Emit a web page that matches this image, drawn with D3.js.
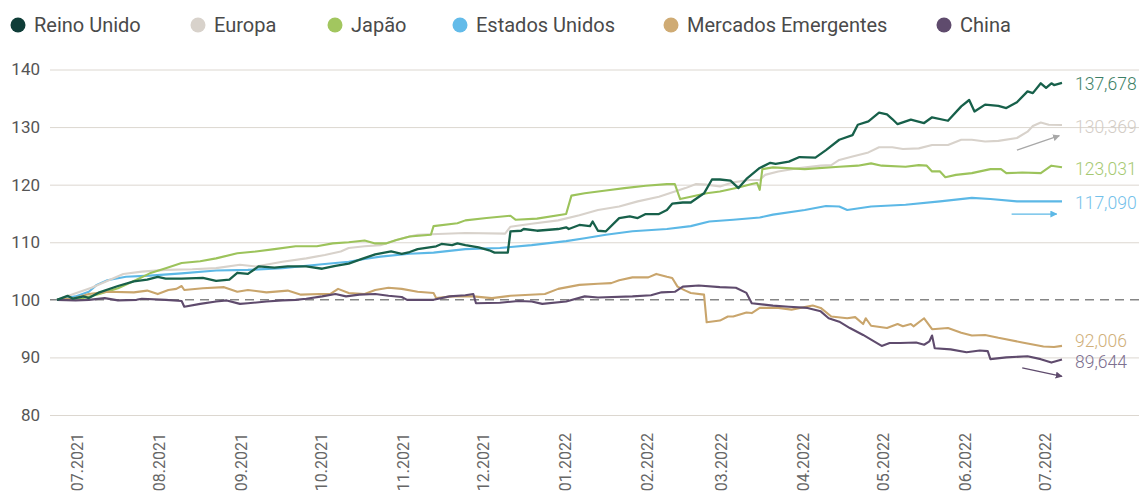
<!DOCTYPE html>
<html>
<head>
<meta charset="utf-8">
<script src="https://cdn.jsdelivr.net/npm/d3@7/dist/d3.min.js"></script>
<style>
    body { margin: 0; background: #fff; }
    svg text { font-family: Roboto, "Noto Sans", sans-serif; }
</style>
</head>
<body>
<div id="chart"></div>
<script>
// series names (legend order)
var seriesNames = ["Reino Unido", "Europa", "Japão", "Estados Unidos", "Mercados Emergentes", "China"]

// index values, base 100 (date, value)
var reinoUnido = [
    ["2021-06-24",100],["2021-06-28",100.7],["2021-06-30",100.2],["2021-07-04",100.6],["2021-07-06",100.3],
    ["2021-07-10",101.3],["2021-07-17",102.4],["2021-07-23",103.2],["2021-07-28",103.5],["2021-08-01",104.0],
    ["2021-08-04",103.7],["2021-08-10",103.7],["2021-08-18",103.8],["2021-08-23",103.3],["2021-08-28",103.5],
    ["2021-08-31",104.7],["2021-09-04",104.5],["2021-09-08",105.8],["2021-09-14",105.6],["2021-09-19",105.8],
    ["2021-09-26",105.8],["2021-10-02",105.4],["2021-10-07",105.9],["2021-10-12",106.3],["2021-10-17",107.1],
    ["2021-10-22",107.9],["2021-10-28",108.4],["2021-11-01",108.0],["2021-11-04",108.3],["2021-11-07",108.8],
    ["2021-11-14",109.3],["2021-11-16",109.7],["2021-11-20",109.5],["2021-11-22",109.8],["2021-11-25",109.5],
    ["2021-11-30",109.1],["2021-12-04",108.6],["2021-12-06",108.2],["2021-12-11",108.2],["2021-12-12",111.9],
    ["2021-12-16",112.0],["2021-12-17",112.3],["2021-12-22",112.0],["2021-12-30",112.3],["2022-01-02",112.6],
    ["2022-01-03",112.3],["2022-01-07",113.0],["2022-01-11",112.8],["2022-01-12",113.6],["2022-01-14",112.0],
    ["2022-01-17",111.9],["2022-01-22",114.2],["2022-01-26",114.5],["2022-01-29",114.2],["2022-02-01",114.9],
    ["2022-02-06",114.9],["2022-02-09",115.6],["2022-02-11",116.7],["2022-02-15",116.9],["2022-02-18",116.9],
    ["2022-02-23",118.5],["2022-02-26",120.9],["2022-03-01",120.9],["2022-03-05",120.7],["2022-03-08",119.4],
    ["2022-03-11",121.0],["2022-03-16",122.9],["2022-03-20",123.8],["2022-03-22",123.6],["2022-03-27",124.0],
    ["2022-03-31",124.8],["2022-04-06",124.7],["2022-04-10",126.0],["2022-04-15",127.8],["2022-04-20",128.6],
    ["2022-04-22",130.4],["2022-04-26",131.0],["2022-04-30",132.5],["2022-05-03",132.2],["2022-05-05",131.4],
    ["2022-05-07",130.5],["2022-05-12",131.3],["2022-05-17",130.7],["2022-05-20",131.7],["2022-05-26",131.1],
    ["2022-05-31",133.6],["2022-06-03",134.7],["2022-06-05",132.7],["2022-06-09",133.9],["2022-06-14",133.7],
    ["2022-06-17",133.3],["2022-06-21",134.3],["2022-06-25",136.2],["2022-06-27",135.9],["2022-06-30",137.6],
    ["2022-07-02",136.8],["2022-07-04",137.6],["2022-07-05",137.3],["2022-07-08",137.678]
]
var europa = [
    ["2021-06-24",100],["2021-07-07",102.1],["2021-07-14",103.5],["2021-07-19",104.5],["2021-07-26",104.9],
    ["2021-08-04",105.2],["2021-08-14",105.3],["2021-08-23",105.5],["2021-09-01",106.1],["2021-09-07",105.8],
    ["2021-09-17",106.6],["2021-09-26",107.2],["2021-10-03",107.8],["2021-10-09",108.4],["2021-10-12",109.0],
    ["2021-10-18",109.3],["2021-10-24",109.5],["2021-10-30",110.4],["2021-11-04",111.0],["2021-11-07",111.3],
    ["2021-11-25",111.6],["2021-12-10",111.5],["2021-12-12",112.7],["2021-12-20",113.2],["2021-12-30",113.8],
    ["2022-01-07",114.7],["2022-01-14",115.6],["2022-01-22",116.2],["2022-01-29",117.1],["2022-02-06",117.9],
    ["2022-02-12",118.8],["2022-02-16",119.4],["2022-02-20",120.1],["2022-02-24",120.0],["2022-03-01",119.7],
    ["2022-03-06",120.4],["2022-03-12",120.8],["2022-03-16",120.8],["2022-03-18",121.7],["2022-03-23",122.3],
    ["2022-03-31",122.9],["2022-04-08",123.3],["2022-04-12",123.4],["2022-04-15",124.3],["2022-04-20",124.9],
    ["2022-04-26",125.6],["2022-04-30",126.5],["2022-05-05",126.5],["2022-05-09",126.2],["2022-05-15",126.3],
    ["2022-05-20",126.9],["2022-05-26",126.9],["2022-05-31",127.8],["2022-06-04",127.8],["2022-06-09",127.5],
    ["2022-06-14",127.6],["2022-06-21",128.1],["2022-06-25",129.2],["2022-06-27",130.2],["2022-06-30",130.8],
    ["2022-07-03",130.4],["2022-07-08",130.369]
]
var japao = [
    ["2021-06-24",100],["2021-07-04",100.3],["2021-07-10",101.0],["2021-07-17",102.0],["2021-07-24",103.5],
    ["2021-07-29",104.6],["2021-08-04",105.5],["2021-08-10",106.4],["2021-08-17",106.7],["2021-08-23",107.2],
    ["2021-08-31",108.1],["2021-09-07",108.4],["2021-09-14",108.8],["2021-09-22",109.3],["2021-09-30",109.3],
    ["2021-10-06",109.8],["2021-10-12",110.0],["2021-10-18",110.3],["2021-10-22",109.8],["2021-10-26",109.8],
    ["2021-10-30",110.4],["2021-11-04",111.0],["2021-11-12",111.3],["2021-11-13",112.8],["2021-11-22",113.3],
    ["2021-11-25",113.8],["2021-12-03",114.2],["2021-12-12",114.6],["2021-12-14",113.9],["2021-12-22",114.1],
    ["2022-01-02",114.9],["2022-01-04",118.1],["2022-01-09",118.5],["2022-01-17",119.0],["2022-01-24",119.4],
    ["2022-02-01",119.8],["2022-02-09",120.1],["2022-02-12",120.1],["2022-02-14",117.5],["2022-02-18",117.9],
    ["2022-02-24",118.5],["2022-03-01",118.8],["2022-03-08",119.5],["2022-03-13",120.1],["2022-03-15",120.3],
    ["2022-03-16",119.1],["2022-03-17",122.7],["2022-03-21",123.0],["2022-04-02",122.7],["2022-04-15",123.1],
    ["2022-04-22",123.3],["2022-04-27",123.7],["2022-05-01",123.3],["2022-05-10",123.1],["2022-05-15",123.4],
    ["2022-05-18",123.3],["2022-05-20",122.3],["2022-05-23",122.3],["2022-05-25",121.3],["2022-05-29",121.7],
    ["2022-06-04",122.0],["2022-06-11",122.7],["2022-06-15",122.7],["2022-06-17",122.0],["2022-06-23",122.1],
    ["2022-06-30",122.0],["2022-07-04",123.3],["2022-07-08",123.031]
]
var estadosUnidos = [
    ["2021-06-24",100],["2021-07-01",100.6],["2021-07-06",101.4],["2021-07-09",102.6],["2021-07-13",103.4],
    ["2021-07-20",104.0],["2021-07-29",104.2],["2021-08-10",104.6],["2021-08-23",105.1],["2021-09-04",105.2],
    ["2021-09-17",105.5],["2021-09-30",106.1],["2021-10-12",106.6],["2021-10-18",107.1],["2021-10-24",107.5],
    ["2021-11-04",108.0],["2021-11-13",108.2],["2021-11-25",108.8],["2021-12-08",109.0],["2021-12-20",109.5],
    ["2022-01-02",110.2],["2022-01-09",110.7],["2022-01-17",111.3],["2022-01-27",111.9],["2022-02-09",112.3],
    ["2022-02-18",112.8],["2022-02-25",113.6],["2022-03-06",113.9],["2022-03-16",114.3],["2022-03-21",114.8],
    ["2022-04-02",115.6],["2022-04-10",116.3],["2022-04-15",116.2],["2022-04-18",115.6],["2022-04-27",116.2],
    ["2022-05-10",116.5],["2022-05-23",117.1],["2022-06-04",117.7],["2022-06-11",117.5],["2022-06-21",117.1],
    ["2022-06-30",117.1],["2022-07-08",117.09]
]
var mercadosEmergentes = [
    ["2021-06-24",100],["2021-07-01",100.3],["2021-07-06",101.0],["2021-07-13",101.4],["2021-07-23",101.3],
    ["2021-07-28",101.6],["2021-08-01",101.0],["2021-08-05",101.7],["2021-08-08",101.9],["2021-08-10",102.4],
    ["2021-08-11",101.7],["2021-08-18",102.0],["2021-08-26",102.2],["2021-08-31",101.4],["2021-09-04",101.7],
    ["2021-09-11",101.3],["2021-09-19",101.6],["2021-09-24",100.9],["2021-10-01",101.0],["2021-10-05",101.0],
    ["2021-10-08",101.9],["2021-10-12",101.2],["2021-10-18",101.0],["2021-10-22",101.7],["2021-10-27",102.1],
    ["2021-11-01",101.9],["2021-11-07",101.4],["2021-11-13",101.2],["2021-11-14",100.3],["2021-11-20",100.6],
    ["2021-11-28",100.6],["2021-12-05",100.3],["2021-12-12",100.7],["2021-12-25",101.0],["2021-12-30",101.9],
    ["2022-01-07",102.6],["2022-01-14",102.8],["2022-01-19",102.9],["2022-01-22",103.4],["2022-01-27",103.9],
    ["2022-02-02",103.9],["2022-02-05",104.5],["2022-02-09",104.0],["2022-02-11",103.8],["2022-02-13",102.3],
    ["2022-02-16",101.6],["2022-02-18",101.2],["2022-02-23",100.9],["2022-02-24",96.1],["2022-03-01",96.4],
    ["2022-03-04",97.1],["2022-03-06",97.1],["2022-03-11",97.8],["2022-03-13",97.7],["2022-03-16",98.6],
    ["2022-03-23",98.6],["2022-03-28",98.3],["2022-04-05",99.0],["2022-04-08",98.6],["2022-04-12",97.1],
    ["2022-04-18",96.8],["2022-04-21",97.0],["2022-04-24",95.8],["2022-04-25",96.8],["2022-04-27",95.5],
    ["2022-05-03",95.1],["2022-05-07",95.8],["2022-05-09",95.4],["2022-05-12",95.8],["2022-05-13",95.4],
    ["2022-05-17",96.8],["2022-05-20",94.9],["2022-05-26",95.1],["2022-05-31",94.3],["2022-06-04",93.8],
    ["2022-06-09",93.9],["2022-06-14",93.4],["2022-06-23",92.6],["2022-07-01",91.9],["2022-07-05",91.8],
    ["2022-07-08",92.006]
]
var china = [
    ["2021-06-24",100],["2021-07-01",99.9],["2021-07-06",100.0],["2021-07-12",100.3],["2021-07-17",99.9],
    ["2021-07-24",100.0],["2021-07-26",100.2],["2021-08-04",100.0],["2021-08-10",99.8],["2021-08-11",98.8],
    ["2021-08-17",99.3],["2021-08-23",99.7],["2021-08-27",99.9],["2021-09-01",99.3],["2021-09-04",99.4],
    ["2021-09-11",99.7],["2021-09-17",99.9],["2021-09-22",100.0],["2021-09-26",100.2],["2021-10-02",100.6],
    ["2021-10-07",101.0],["2021-10-11",100.6],["2021-10-16",100.9],["2021-10-22",101.0],["2021-10-27",100.7],
    ["2021-11-01",100.5],["2021-11-03",100.0],["2021-11-13",100.0],["2021-11-19",100.6],["2021-11-25",100.8],
    ["2021-11-28",101.0],["2021-11-29",99.4],["2021-12-08",99.5],["2021-12-15",99.8],["2021-12-20",99.7],
    ["2021-12-24",99.3],["2022-01-02",99.7],["2022-01-09",100.6],["2022-01-14",100.4],["2022-01-27",100.6],
    ["2022-02-03",100.8],["2022-02-07",101.3],["2022-02-12",101.4],["2022-02-15",102.3],["2022-02-21",102.5],
    ["2022-03-01",102.2],["2022-03-07",102.1],["2022-03-11",101.2],["2022-03-13",99.4],["2022-03-21",99.0],
    ["2022-03-27",98.8],["2022-04-03",98.6],["2022-04-08",98.0],["2022-04-11",96.8],["2022-04-15",96.2],
    ["2022-04-19",95.1],["2022-04-24",93.9],["2022-04-27",93.1],["2022-05-01",92.0],["2022-05-04",92.5],
    ["2022-05-08",92.5],["2022-05-14",92.6],["2022-05-17",92.2],["2022-05-19",92.8],["2022-05-20",93.8],
    ["2022-05-21",91.6],["2022-05-27",91.4],["2022-06-02",90.9],["2022-06-07",91.2],["2022-06-10",91.1],
    ["2022-06-11",89.7],["2022-06-17",90.0],["2022-06-25",90.2],["2022-06-30",89.7],["2022-07-04",89.1],
    ["2022-07-08",89.644]
]

// y ticks
var yTicks = [80, 90, 100, 110, 120, 130, 140]

// trend arrows next to the end labels (series index, from, to)
var trendArrows = [
    [1, ["2022-06-21",126.0], ["2022-07-07",128.5]],
    [3, ["2022-06-19",114.9], ["2022-07-06",114.9]],
    [5, ["2022-06-23",88.2], ["2022-07-08",86.7]]
]

// styling
var lineColors = ["#17604a", "#d8d2cb", "#9cc35b", "#5cb8e6", "#c9a56c", "#5f4b6d"]
var legendColors = ["#0f3d38", "#d8d2cb", "#a2c65f", "#63bbe9", "#cfab74", "#5f4b6d"]
var labelColors = ["#3d7f66", "#d3cdc6", "#a6c972", "#74c1ea", "#d0b07a", "#7d7090"]
var arrowColors = ["#a8a8a8", "#a8a8a8", "#a8a8a8", "#5cb8e6", "#a8a8a8", "#5f4b6d"]

var allSeries = [reinoUnido, europa, japao, estadosUnidos, mercadosEmergentes, china]

function createVisualization() {
    var w = 1139
    var h = 493
    var parse = d3.timeParse("%Y-%m-%d")
    var ptFormat = d3.formatLocale({ decimal: ",", thousands: ".", grouping: [3], currency: ["€", ""] }).format(".3f")

    var svg = d3.select("#chart").append("svg")
        .attr("width", w)
        .attr("height", h)

    // scales
    var xScale = d3.scaleTime()
        .domain([parse("2021-06-24"), parse("2022-07-08")])
        .range([57, 1062])
    var yScale = d3.scaleLinear()
        .domain([80, 140])
        .range([415, 69.5])

    // gridlines + y labels
    var yAxis = d3.axisLeft(yScale)
        .tickValues(yTicks)
        .tickSize(-(w - 50))
        .tickPadding(10)
    var yg = svg.append("g")
        .attr("transform", "translate(50,0)")
        .call(yAxis)
    yg.select(".domain").remove()
    yg.selectAll(".tick line")
        .attr("stroke", "#dcd7d0")
        .attr("stroke-width", 1)
        .attr("stroke-opacity", function(d) { return d == 100 ? 0 : 1 })
    yg.selectAll(".tick text")
        .attr("fill", "#555")
        .attr("font-size", "17px")

    // x labels (monthly, rotated)
    var xAxis = d3.axisBottom(xScale)
        .ticks(d3.timeMonth.every(1))
        .tickFormat(d3.timeFormat("%m.%Y"))
        .tickSize(0)
    var xg = svg.append("g")
        .attr("transform", "translate(1,433)")
        .call(xAxis)
    xg.select(".domain").remove()
    xg.selectAll(".tick text")
        .attr("fill", "#666")
        .attr("font-size", "16px")
        .attr("text-anchor", "end")
        .attr("transform", "rotate(-90)")
        .attr("x", 0)
        .attr("y", 0)
        .attr("dy", "0.36em")
        .attr("dx", 0)

    // dashed base line at 100
    svg.append("line")
        .attr("x1", 50)
        .attr("x2", w)
        .attr("y1", yScale(100))
        .attr("y2", yScale(100))
        .attr("stroke", "#858585")
        .attr("stroke-width", 1.5)
        .attr("stroke-dasharray", "9,6")

    // lines
    var line = d3.line()
        .x(function(d) { return xScale(parse(d[0])) })
        .y(function(d) { return yScale(d[1]) })
    var drawOrder = [3, 1, 2, 4, 5, 0]
    drawOrder.forEach(function(i) {
        svg.append("path")
            .datum(allSeries[i])
            .attr("d", line)
            .attr("fill", "none")
            .attr("stroke", lineColors[i])
            .attr("stroke-width", i == 0 ? 2.3 : 2.1)
            .attr("stroke-linejoin", "round")
    })

    // end labels with simple spacing
    var labels = allSeries.map(function(s, i) {
        var last = s[s.length - 1]
        return { i: i, y: yScale(last[1]), text: ptFormat(last[1]) }
    })
    labels.sort(function(a, b) { return a.y - b.y })
    for (var k = 1; k < labels.length; k++) {
        if (labels[k].y - labels[k - 1].y < 21) {
            var mid = (labels[k].y + labels[k - 1].y) / 2 - 2.5
            labels[k - 1].y = mid - 10.5
            labels[k].y = mid + 10.5
        }
    }
    svg.selectAll(".endlabel")
        .data(labels)
        .enter()
        .append("text")
        .attr("class", "endlabel")
        .attr("x", 1075)
        .attr("y", function(d) { return d.y + 1.5 })
        .attr("dy", "0.35em")
        .attr("fill", function(d) { return labelColors[d.i] })
        .attr("font-size", "17.5px")
        .attr("font-weight", 300)
        .text(function(d) { return d.text })

    // arrow markers
    var defs = svg.append("defs")
    trendArrows.forEach(function(a) {
        defs.append("marker")
            .attr("id", "arrow" + a[0])
            .attr("viewBox", "0 0 10 10")
            .attr("refX", 9)
            .attr("refY", 5)
            .attr("markerWidth", 7)
            .attr("markerHeight", 7)
            .attr("markerUnits", "userSpaceOnUse")
            .attr("orient", "auto")
            .append("path")
            .attr("d", "M0,0L10,5L0,10z")
            .attr("fill", arrowColors[a[0]])
    })
    svg.selectAll(".trend")
        .data(trendArrows)
        .enter()
        .append("line")
        .attr("class", "trend")
        .attr("x1", function(d) { return xScale(parse(d[1][0])) })
        .attr("y1", function(d) { return yScale(d[1][1]) })
        .attr("x2", function(d) { return xScale(parse(d[2][0])) })
        .attr("y2", function(d) { return yScale(d[2][1]) })
        .attr("stroke", function(d) { return arrowColors[d[0]] })
        .attr("stroke-width", 1.3)
        .attr("marker-end", function(d) { return "url(#arrow" + d[0] + ")" })

    // legend
    var legendX = [18, 198, 335, 460, 671, 944]
    var legend = svg.selectAll(".legend")
        .data(seriesNames)
        .enter()
        .append("g")
        .attr("class", "legend")
        .attr("transform", function(d, i) { return "translate(" + legendX[i] + ",25)" })
    legend.append("circle")
        .attr("r", 7.5)
        .attr("fill", function(d, i) { return legendColors[i] })
    legend.append("text")
        .attr("x", 16)
        .attr("dy", "0.35em")
        .attr("fill", "#4a4a4a")
        .attr("font-size", "20px")
        .text(function(d) { return d })
}

createVisualization()
</script>
</body>
</html>
